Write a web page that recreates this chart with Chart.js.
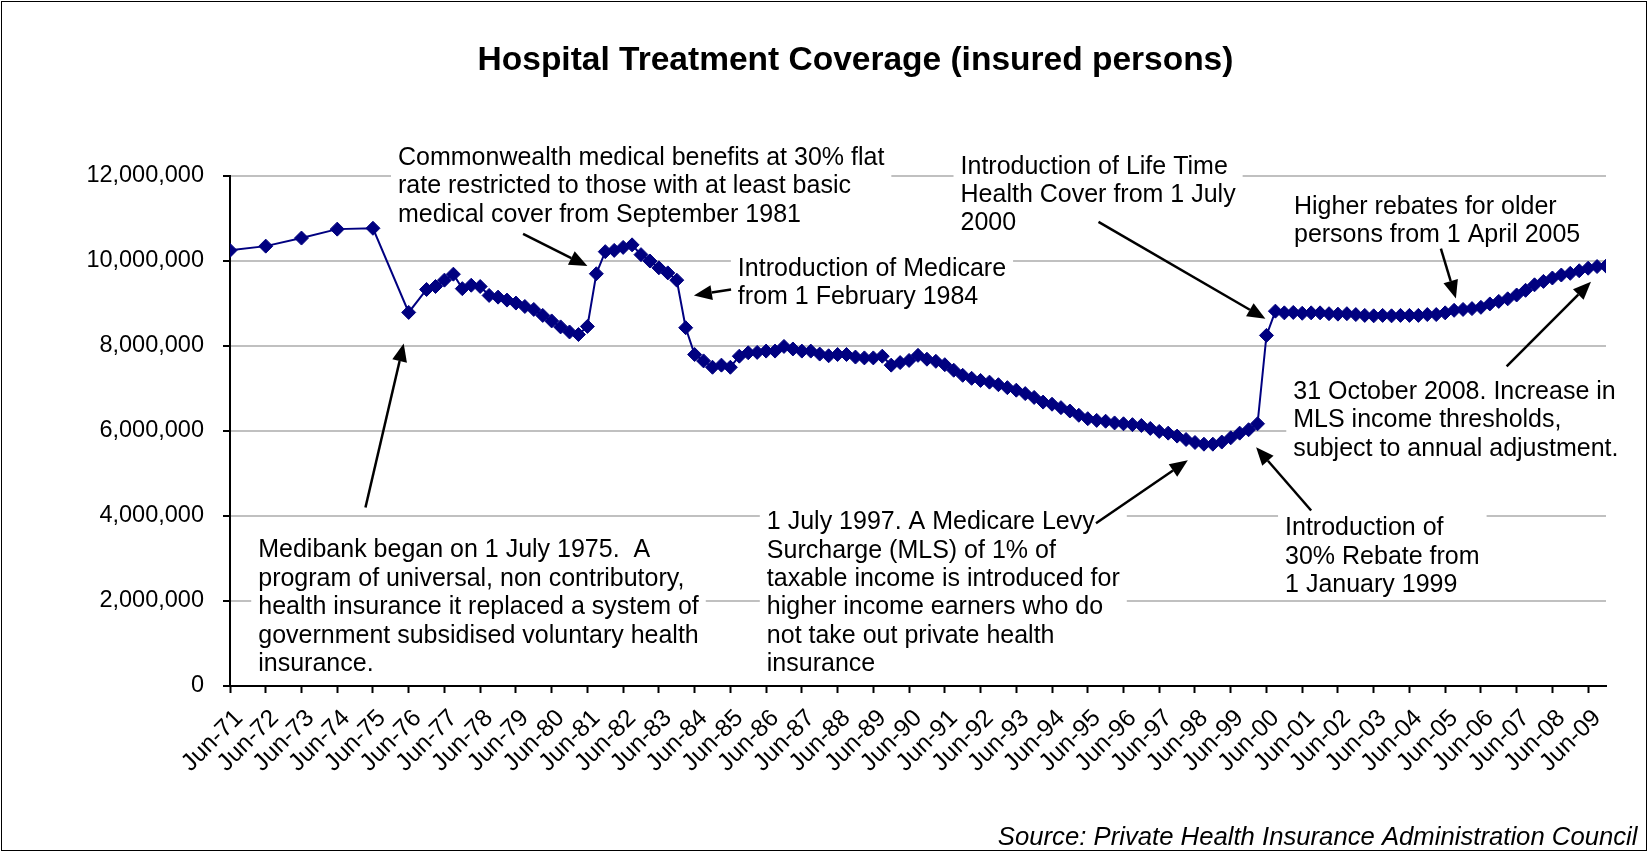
<!DOCTYPE html>
<html>
<head>
<meta charset="utf-8">
<title>Hospital Treatment Coverage (insured persons)</title>
<script src="https://cdn.jsdelivr.net/npm/chart.js@4.4.1/dist/chart.umd.min.js"></script>
<style>
  html, body { margin: 0; padding: 0; background: #fff; }
  #chart { display: block; }
</style>
</head>
<body>
<canvas id="chart" width="1649" height="853"></canvas>
<script>
// x axis labels, one per June
const yearTicks = [
  'Jun-71', 'Jun-72', 'Jun-73', 'Jun-74', 'Jun-75', 'Jun-76', 'Jun-77', 'Jun-78',
  'Jun-79', 'Jun-80', 'Jun-81', 'Jun-82', 'Jun-83', 'Jun-84', 'Jun-85', 'Jun-86',
  'Jun-87', 'Jun-88', 'Jun-89', 'Jun-90', 'Jun-91', 'Jun-92', 'Jun-93', 'Jun-94',
  'Jun-95', 'Jun-96', 'Jun-97', 'Jun-98', 'Jun-99', 'Jun-00', 'Jun-01', 'Jun-02',
  'Jun-03', 'Jun-04', 'Jun-05', 'Jun-06', 'Jun-07', 'Jun-08', 'Jun-09'
];

// annual figures, Jun-71 .. Jun-75
const annualValues = [10250000, 10350000, 10540000, 10750000, 10770000];

// quarterly figures from Jun-76 (Jun, Sep, Dec, Mar per row), to Dec-09
const quarterlyValues = [
  8790000, null, 9330000, 9400000,        // 1976-77
  9550000, 9690000, 9350000, 9430000,     // 1977-78
  9400000, 9190000, 9150000, 9080000,     // 1978-79
  9010000, 8930000, 8860000, 8720000,     // 1979-80
  8590000, 8450000, 8330000, 8270000,     // 1980-81
  8460000, 9700000, 10220000, 10250000,   // 1981-82
  10320000, 10380000, 10150000, 10000000, // 1982-83
  9840000, 9720000, 9550000, 8430000,     // 1983-84
  7800000, 7650000, 7500000, 7550000,     // 1984-85
  7500000, 7760000, 7840000, 7850000,     // 1985-86
  7880000, 7880000, 7990000, 7930000,     // 1986-87
  7880000, 7880000, 7810000, 7770000,     // 1987-88
  7800000, 7800000, 7740000, 7720000,     // 1988-89
  7720000, 7760000, 7550000, 7610000,     // 1989-90
  7660000, 7780000, 7690000, 7640000,     // 1990-91
  7560000, 7430000, 7310000, 7240000,     // 1991-92
  7190000, 7150000, 7090000, 7020000,     // 1992-93
  6960000, 6880000, 6790000, 6680000,     // 1993-94
  6630000, 6550000, 6470000, 6370000,     // 1994-95
  6290000, 6250000, 6230000, 6190000,     // 1995-96
  6170000, 6150000, 6130000, 6060000,     // 1996-97
  5990000, 5950000, 5880000, 5800000,     // 1997-98
  5730000, 5690000, 5690000, 5740000,     // 1998-99
  5840000, 5950000, 6030000, 6170000,     // 1999-00
  8250000, 8820000, 8780000, 8790000,     // 2000-01
  8770000, 8780000, 8780000, 8760000,     // 2001-02
  8750000, 8760000, 8740000, 8720000,     // 2002-03
  8710000, 8720000, 8710000, 8720000,     // 2003-04
  8720000, 8720000, 8740000, 8740000,     // 2004-05
  8780000, 8840000, 8860000, 8880000,     // 2005-06
  8910000, 8990000, 9050000, 9110000,     // 2006-07
  9200000, 9310000, 9440000, 9520000,     // 2007-08
  9600000, 9670000, 9710000, 9770000,     // 2008-09
  9830000, 9870000, 9880000               // 2009-10
];

// x is in years after Jun-71 (one tick per year)
const points = annualValues.map((v, i) => ({ x: i, y: v }))
  .concat(quarterlyValues.map((v, i) => ({ x: 5 + i / 4, y: v })));

// text boxes: position of first line (x in years after Jun-71, y in persons)
const notes = [
  { x: 4.70, y: 12420000, lines: [
    'Commonwealth medical benefits at 30% flat',
    'rate restricted to those with at least basic',
    'medical cover from September 1981'] },
  { x: 20.44, y: 12220000, lines: [
    'Introduction of Life Time',
    'Health Cover from 1 July',
    '2000'] },
  { x: 29.77, y: 11270000, lines: [
    'Higher rebates for older',
    'persons from 1 April 2005'] },
  { x: 14.21, y: 9820000, lines: [
    'Introduction of Medicare',
    'from 1 February 1984'] },
  { x: 29.75, y: 6920000, lines: [
    '31 October 2008. Increase in',
    'MLS income thresholds,',
    'subject to annual adjustment.'] },
  { x: 15.02, y: 3850000, lines: [
    '1 July 1997. A Medicare Levy',
    'Surcharge (MLS) of 1% of',
    'taxable income is introduced for',
    'higher income earners who do',
    'not take out private health',
    'insurance'] },
  { x: 0.79, y: 3190000, lines: [
    'Medibank began on 1 July 1975.  A',
    'program of universal, non contributory,',
    'health insurance it replaced a system of',
    'government subsidised voluntary health',
    'insurance.'] },
  { x: 29.52, y: 3710000, lines: [
    'Introduction of',
    '30% Rebate from',
    '1 January 1999'] }
];

// arrows: [fromX, fromY, tipX, tipY] in the same units
const arrows = [
  [8.2, 10640000, 10.0, 9880000],
  [14.02, 9330000, 12.98, 9190000],
  [3.79, 4200000, 4.86, 8060000],
  [24.30, 10920000, 28.97, 8640000],
  [33.88, 10290000, 34.30, 9120000],
  [35.72, 7520000, 38.08, 9510000],
  [24.23, 3830000, 26.80, 5310000],
  [30.25, 4130000, 28.71, 5620000]
];

const FONT = '"Liberation Sans", Arial, sans-serif';
const LINE_H = 28.4;

const notesPlugin = {
  id: 'notes',
  afterDatasetsDraw(chart) {
    const { ctx, scales: { x, y } } = chart;
    ctx.save();
    ctx.font = '25px ' + FONT;
    ctx.textBaseline = 'middle';
    ctx.textAlign = 'left';
    notes.forEach(n => {
      const left = x.getPixelForValue(n.x);
      const top = y.getPixelForValue(n.y);
      const w = Math.max(...n.lines.map(l => ctx.measureText(l).width));
      ctx.fillStyle = '#fff';
      ctx.fillRect(left - 7, top - 15, w + 14, LINE_H * (n.lines.length - 1) + 29);
      ctx.fillStyle = '#000';
      n.lines.forEach((l, i) => ctx.fillText(l, left, top + i * LINE_H));
    });

    ctx.strokeStyle = '#000';
    ctx.fillStyle = '#000';
    ctx.lineWidth = 2.5;
    arrows.forEach(a => {
      const x0 = x.getPixelForValue(a[0]), y0 = y.getPixelForValue(a[1]);
      const x1 = x.getPixelForValue(a[2]), y1 = y.getPixelForValue(a[3]);
      const ang = Math.atan2(y1 - y0, x1 - x0);
      const len = 18, half = 7.5;
      const bx = x1 - len * Math.cos(ang), by = y1 - len * Math.sin(ang);
      ctx.beginPath();
      ctx.moveTo(x0, y0);
      ctx.lineTo(bx, by);
      ctx.stroke();
      ctx.beginPath();
      ctx.moveTo(x1, y1);
      ctx.lineTo(bx + half * Math.sin(ang), by - half * Math.cos(ang));
      ctx.lineTo(bx - half * Math.sin(ang), by + half * Math.cos(ang));
      ctx.closePath();
      ctx.fill();
    });
    ctx.restore();
  },
  afterDraw(chart) {
    const ctx = chart.ctx;
    ctx.save();
    ctx.fillStyle = '#000';
    ctx.textBaseline = 'middle';
    // title sits a little right of the canvas centre, as in the original
    ctx.font = 'bold 33.5px ' + FONT;
    ctx.textAlign = 'center';
    ctx.fillText('Hospital Treatment Coverage (insured persons)', 855.5, 61);
    ctx.font = 'italic 25.7px ' + FONT;
    ctx.textAlign = 'right';
    ctx.fillText('Source: Private Health Insurance Administration Council', 1637.5, 838);
    ctx.strokeStyle = '#000';
    ctx.lineWidth = 1;
    ctx.strokeRect(1.5, 1.5, 1645, 849);
    ctx.restore();
  }
};

new Chart(document.getElementById('chart'), {
  type: 'line',
  data: {
    datasets: [{
      data: points,
      borderColor: '#000080',
      backgroundColor: '#000080',
      borderWidth: 2,
      pointStyle: 'rectRot',
      pointRadius: 7,
      pointBorderWidth: 1,
      spanGaps: true,
      tension: 0
    }]
  },
  options: {
    responsive: false,
    animation: false,
    devicePixelRatio: 1,
    layout: { padding: { left: 0, right: 43, top: 176, bottom: 0 } },
    plugins: {
      legend: { display: false },
      tooltip: { enabled: false },
      title: { display: false }
    },
    scales: {
      x: {
        type: 'linear',
        min: 0,
        max: 38.5,
        afterFit: s => { s.height = 167; },
        border: { color: '#000', width: 2 },
        grid: { drawOnChartArea: false, drawTicks: true, tickLength: 7, tickColor: '#000', tickWidth: 2 },
        ticks: {
          stepSize: 1,
          includeBounds: false,
          autoSkip: false,
          maxRotation: 45,
          minRotation: 45,
          padding: 11,
          labelOffset: 9,
          color: '#000',
          font: { family: FONT, size: 24.5 },
          callback: v => yearTicks[v]
        }
      },
      y: {
        min: 0,
        max: 12000000,
        afterFit: s => { s.width = 230; },
        border: { color: '#000', width: 2 },
        grid: {
          color: c => (c.tick && c.tick.value === 0) ? 'rgba(0,0,0,0)' : '#c0c0c0',
          lineWidth: 2,
          tickColor: '#000',
          tickLength: 7
        },
        ticks: {
          stepSize: 2000000,
          padding: 19,
          color: '#000',
          font: { family: FONT, size: 23.5 },
          callback: v => v.toLocaleString('en-US')
        }
      }
    }
  },
  plugins: [notesPlugin]
});
</script>
</body>
</html>
